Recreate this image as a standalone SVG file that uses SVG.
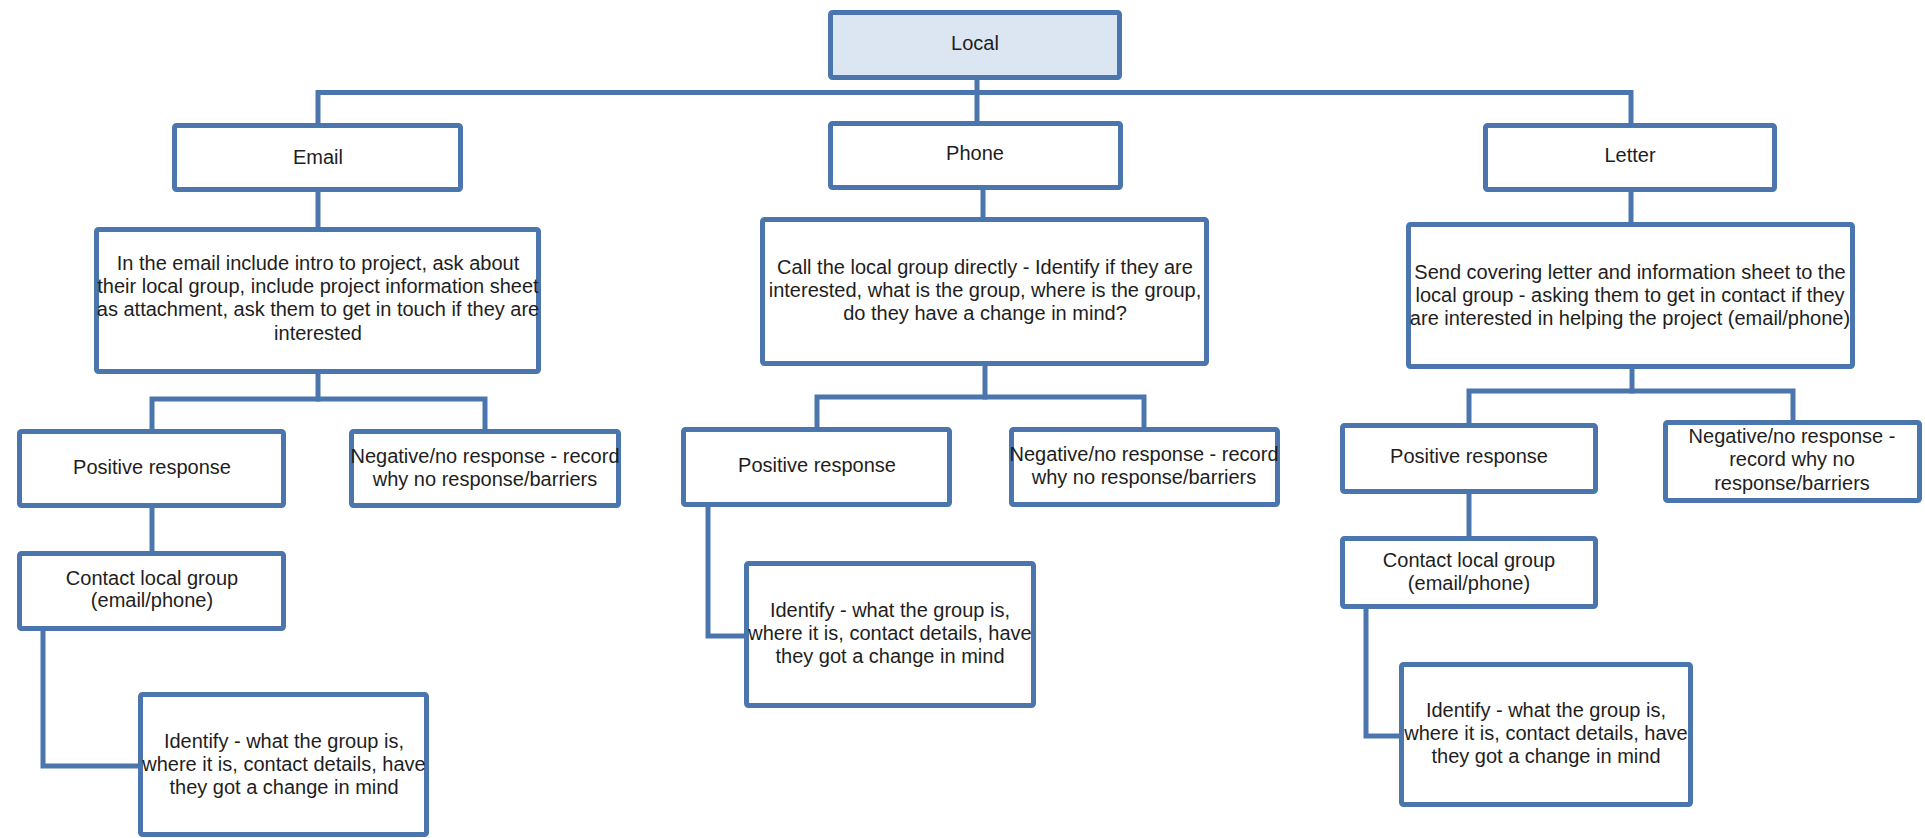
<svg xmlns="http://www.w3.org/2000/svg" width="1925" height="838" viewBox="0 0 1925 838">
  <style>
    .box { fill: #ffffff; stroke: #4a76ad; stroke-width: 5; }
    .root { fill: #dce6f2; }
    .wire { fill: none; stroke: #4a76ad; stroke-width: 5; stroke-linejoin: miter; stroke-linecap: square; }
    text { font-family: "Liberation Sans", Arial, sans-serif; font-size: 20px; fill: #1e1e1e; text-anchor: middle; }
  </style>
  <rect width="1925" height="838" fill="#ffffff"/>

  <!-- connectors -->
  <g id="connectors">
    <path class="wire" d="M977 80 V121"/>
    <path class="wire" d="M318 123 V92.5 H1631 V123"/>
    <path class="wire" d="M318 192 V227"/>
    <path class="wire" d="M983 190 V217"/>
    <path class="wire" d="M1631 192 V222"/>
    <path class="wire" d="M318 374 V399"/>
    <path class="wire" d="M152 429 V399 H485 V429"/>
    <path class="wire" d="M152 508 V551"/>
    <path class="wire" d="M43 631 V766 H138"/>
    <path class="wire" d="M985 366 V397"/>
    <path class="wire" d="M817 427 V397 H1144 V427"/>
    <path class="wire" d="M708 507 V636 H744"/>
    <path class="wire" d="M1632 369 V391"/>
    <path class="wire" d="M1469 423 V391 H1793 V420"/>
    <path class="wire" d="M1469 494 V536"/>
    <path class="wire" d="M1366 609 V736 H1399"/>
  </g>

  <g id="local">
    <rect class="box root" x="830.5" y="12.5" width="289" height="65" rx="2"/>
    <text x="975" y="50">Local</text>
  </g>

  <!-- Email branch -->
  <g id="email">
    <rect class="box" x="174.5" y="125.5" width="286" height="64" rx="2"/>
    <text x="318" y="164">Email</text>
  </g>
  <g id="email-detail">
    <rect class="box" x="96.5" y="229.5" width="442" height="142" rx="2"/>
    <text x="318" y="270">In the email include intro to project, ask about</text>
    <text x="318" y="293">their local group, include project information sheet</text>
    <text x="318" y="316">as attachment, ask them to get in touch if they are</text>
    <text x="318" y="340">interested</text>
  </g>
  <g id="email-positive">
    <rect class="box" x="19.5" y="431.5" width="264" height="74" rx="2"/>
    <text x="152" y="474">Positive response</text>
  </g>
  <g id="email-negative">
    <rect class="box" x="351.5" y="431.5" width="267" height="74" rx="2"/>
    <text x="485" y="463">Negative/no response - record</text>
    <text x="485" y="486">why no response/barriers</text>
  </g>
  <g id="email-contact">
    <rect class="box" x="19.5" y="553.5" width="264" height="75" rx="2"/>
    <text x="152" y="585">Contact local group</text>
    <text x="152" y="607">(email/phone)</text>
  </g>
  <g id="email-identify">
    <rect class="box" x="140.5" y="694.5" width="286" height="140" rx="2"/>
    <text x="284" y="748">Identify - what the group is,</text>
    <text x="284" y="771">where it is, contact details, have</text>
    <text x="284" y="794">they got a change in mind</text>
  </g>

  <!-- Phone branch -->
  <g id="phone">
    <rect class="box" x="830.5" y="123.5" width="290" height="64" rx="2"/>
    <text x="975" y="160">Phone</text>
  </g>
  <g id="phone-detail">
    <rect class="box" x="762.5" y="219.5" width="444" height="144" rx="2"/>
    <text x="985" y="274">Call the local group directly - Identify if they are</text>
    <text x="985" y="297">interested, what is the group, where is the group,</text>
    <text x="985" y="320">do they have a change in mind?</text>
  </g>
  <g id="phone-positive">
    <rect class="box" x="683.5" y="429.5" width="266" height="75" rx="2"/>
    <text x="817" y="472">Positive response</text>
  </g>
  <g id="phone-negative">
    <rect class="box" x="1011.5" y="429.5" width="266" height="75" rx="2"/>
    <text x="1144" y="461">Negative/no response - record</text>
    <text x="1144" y="484">why no response/barriers</text>
  </g>
  <g id="phone-identify">
    <rect class="box" x="746.5" y="563.5" width="287" height="142" rx="2"/>
    <text x="890" y="617">Identify - what the group is,</text>
    <text x="890" y="640">where it is, contact details, have</text>
    <text x="890" y="663">they got a change in mind</text>
  </g>

  <!-- Letter branch -->
  <g id="letter">
    <rect class="box" x="1485.5" y="125.5" width="289" height="64" rx="2"/>
    <text x="1630" y="162">Letter</text>
  </g>
  <g id="letter-detail">
    <rect class="box" x="1408.5" y="224.5" width="444" height="142" rx="2"/>
    <text x="1630" y="279">Send covering letter and information sheet to the</text>
    <text x="1630" y="302">local group - asking them to get in contact if they</text>
    <text x="1630" y="325">are interested in helping the project (email/phone)</text>
  </g>
  <g id="letter-positive">
    <rect class="box" x="1342.5" y="425.5" width="253" height="66" rx="2"/>
    <text x="1469" y="463">Positive response</text>
  </g>
  <g id="letter-negative">
    <rect class="box" x="1665.5" y="422.5" width="254" height="78" rx="2"/>
    <text x="1792" y="443">Negative/no response -</text>
    <text x="1792" y="466">record why no</text>
    <text x="1792" y="490">response/barriers</text>
  </g>
  <g id="letter-contact">
    <rect class="box" x="1342.5" y="538.5" width="253" height="68" rx="2"/>
    <text x="1469" y="567">Contact local group</text>
    <text x="1469" y="590">(email/phone)</text>
  </g>
  <g id="letter-identify">
    <rect class="box" x="1401.5" y="664.5" width="289" height="140" rx="2"/>
    <text x="1546" y="717">Identify - what the group is,</text>
    <text x="1546" y="740">where it is, contact details, have</text>
    <text x="1546" y="763">they got a change in mind</text>
  </g>
</svg>
